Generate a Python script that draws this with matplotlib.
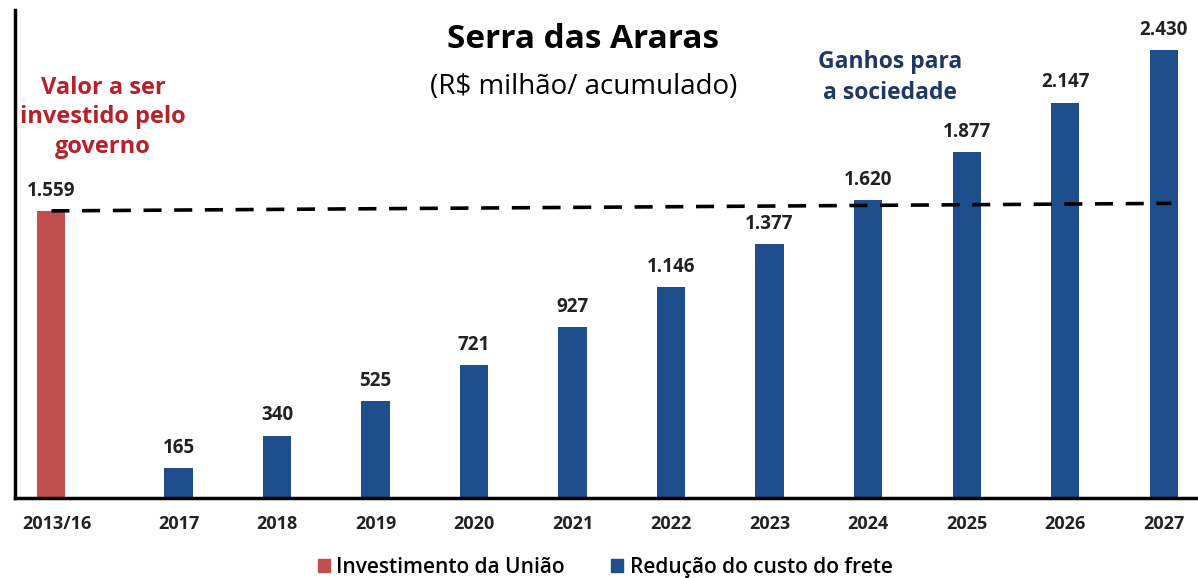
import numpy as np
import matplotlib.pyplot as plt
from matplotlib.patches import Patch

plt.rcParams['font.family'] = ['Open Sans', 'DejaVu Sans']

categorias = ["2013/16", "2017", "2018", "2019", "2020", "2021",
              "2022", "2023", "2024", "2025", "2026", "2027"]
investimento = [1559]
reducao = [165, 340, 525, 721, 927, 1146, 1377, 1620, 1877, 2147, 2430]
rotulos = ["1.559", "165", "340", "525", "721", "927", "1.146",
           "1.377", "1.620", "1.877", "2.147", "2.430"]
linha_ref = [1559, 1600]  # linha tracejada (levemente inclinada no original)

vermelho = "#C0504D"
azul = "#1F4E8C"

fig = plt.figure(figsize=(11.98, 5.78), dpi=100)
ax = fig.add_axes([0.0125, 0.138, 0.99, 0.845])

# posicoes das barras: a primeira fica um pouco deslocada para a esquerda
pos = np.arange(len(categorias), dtype=float)
pos[0] = -0.29
w = 0.285

ax.bar(pos[0], investimento, width=w, color=vermelho)
ax.bar(pos[1:], reducao, width=w, color=azul)

valores = investimento + reducao
for x, v, t in zip(pos, valores, rotulos):
    ax.text(x, v + 55, t, ha="center", va="bottom", fontsize=13.5,
            fontweight="bold", color="#222222")

ax.plot([pos[0], pos[-1] + 0.08], linha_ref, color="black", lw=2.6,
        linestyle=(0, (5, 3.5)))

ax.set_xlim(-0.66, 11.38)
ax.set_ylim(0, 2650)
ax.set_xticks(pos + np.r_[0.06, np.zeros(11)])
ax.set_xticklabels(categorias, fontsize=13, fontweight="bold", color="#222222")
ax.tick_params(axis="x", length=0, pad=12)
ax.set_yticks([])
for s in ["top", "right"]:
    ax.spines[s].set_visible(False)
ax.spines["left"].set_linewidth(2.5)
ax.spines["bottom"].set_linewidth(2.5)

fig.text(0.487, 0.932, "Serra das Araras", ha="center", va="center",
         fontsize=24, fontweight="bold", color="black")
fig.text(0.487, 0.849, "(R$ milhão/ acumulado)", ha="center", va="center",
         fontsize=20, color="black")
fig.text(0.086, 0.797, "Valor a ser\ninvestido pelo\ngoverno", ha="center",
         va="center", fontsize=17, fontweight="bold", color="#B8202A",
         linespacing=1.32)
fig.text(0.743, 0.866, "Ganhos para\na sociedade", ha="center", va="center",
         fontsize=16.5, fontweight="bold", color="#1F3864", linespacing=1.35)

handles = [Patch(color=vermelho, label="Investimento da União"),
           Patch(color=azul, label="Redução do custo do frete")]
fig.legend(handles=handles, loc="center", bbox_to_anchor=(0.505, 0.018),
           ncol=2, frameon=False, prop={"size": 15, "weight": "semibold"},
           handlelength=0.6, handleheight=0.6, handletextpad=0.3,
           columnspacing=2.2)

fig.savefig("out.png", dpi=100)
